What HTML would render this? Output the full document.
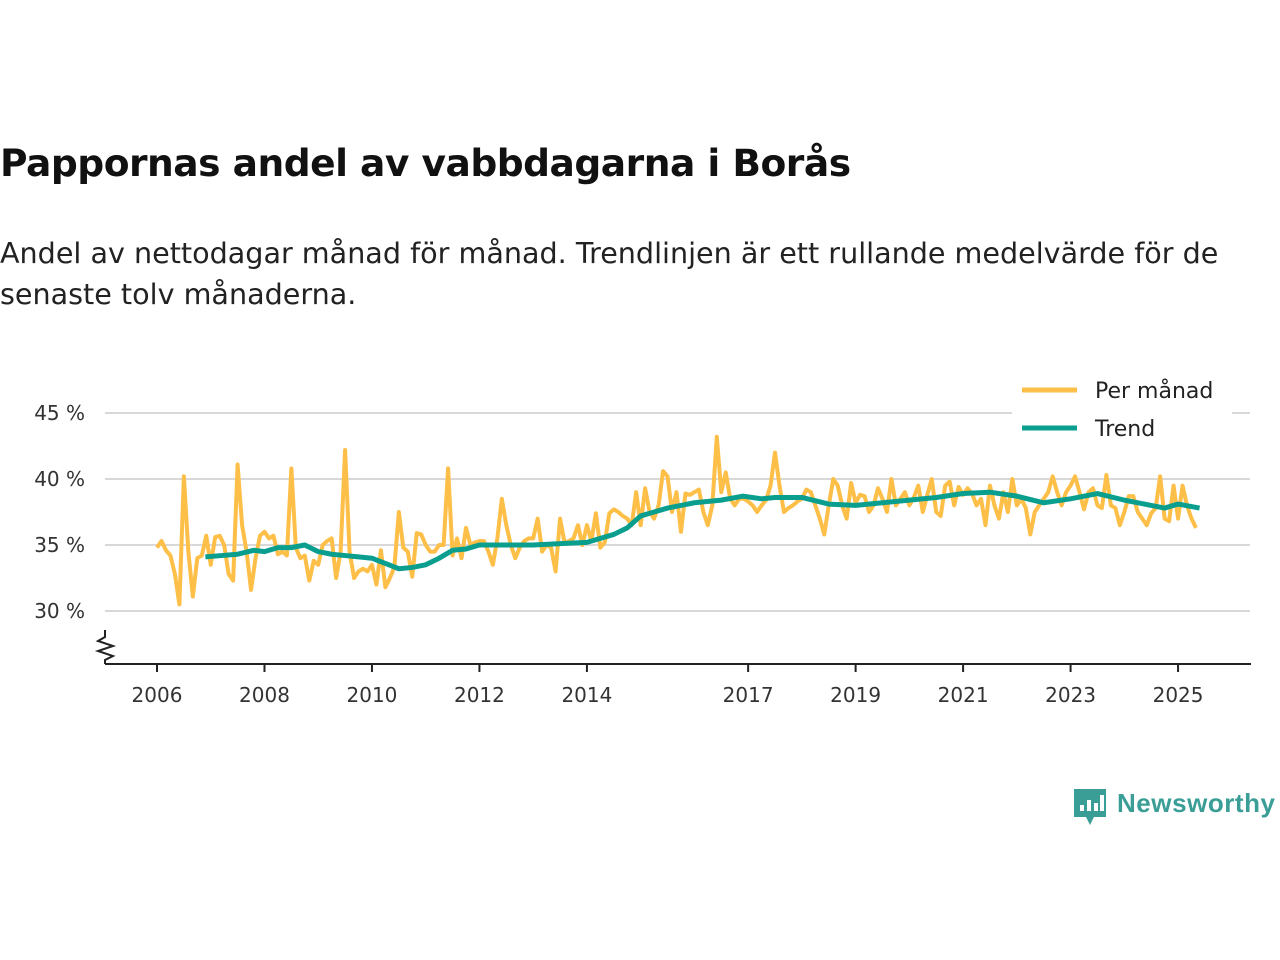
<!DOCTYPE html>
<html><head><meta charset="utf-8">
<style>
body{margin:0;background:#fff;font-family:"Liberation Sans","DejaVu Sans",sans-serif;}
#wrap{position:relative;width:1280px;height:960px;overflow:hidden;}
h1{position:absolute;left:0;top:141px;margin:0;font-size:37.6px;font-weight:bold;color:#111;font-family:"DejaVu Sans",sans-serif;letter-spacing:-0.5px}
p{position:absolute;left:0;top:233px;margin:0;font-size:28.6px;line-height:41px;color:#222;font-family:"DejaVu Sans",sans-serif;width:1250px}
</style></head><body>
<div id="wrap">
<h1>Pappornas andel av vabbdagarna i Borås</h1>
<p>Andel av nettodagar månad för månad. Trendlinjen är ett rullande medelvärde för de senaste tolv månaderna.</p>
<svg id="chart" width="1280" height="960" style="position:absolute;left:0;top:0"></svg>
</div>
<script>
const startYear = 2006;
const monthly = [
34.8,35.3,34.6,34.2,32.8,30.5,40.2,34.5,31.1,34.0,34.2,35.7,
33.5,35.6,35.7,35.0,32.8,32.3,41.1,36.5,34.5,31.6,34.0,35.7,
36.0,35.5,35.7,34.3,34.5,34.2,40.8,34.8,34.0,34.2,32.3,33.8,
33.5,35.0,35.3,35.5,32.5,34.5,42.2,34.5,32.5,33.0,33.2,33.0,
33.5,32.0,34.6,31.8,32.5,33.3,37.5,34.8,34.5,32.6,35.9,35.8,
35.0,34.5,34.5,35.0,35.0,40.8,34.2,35.5,34.0,36.3,35.0,35.2,
35.3,35.3,34.5,33.5,35.5,38.5,36.5,35.0,34.0,34.8,35.3,35.5,
35.5,37.0,34.5,35.0,34.8,33.0,37.0,35.2,35.3,35.5,36.5,35.0,
36.5,35.3,37.4,34.8,35.2,37.4,37.7,37.5,37.2,37.0,36.5,39.0,
36.5,39.3,37.5,37.0,38.0,40.6,40.2,37.5,39.0,36.0,38.9,38.8,
39.0,39.2,37.5,36.5,38.0,43.2,39.0,40.5,38.5,38.0,38.5,38.5,
38.3,38.0,37.5,38.0,38.4,39.5,42.0,39.5,37.5,37.8,38.0,38.3,
38.5,39.2,39.0,38.0,37.0,35.8,38.0,40.0,39.5,38.0,37.0,39.7,
38.2,38.8,38.7,37.5,38.0,39.3,38.5,37.5,40.0,38.0,38.5,39.0,
38.0,38.6,39.5,37.5,38.8,40.0,37.5,37.2,39.5,39.8,38.0,39.4,
38.8,39.3,38.9,38.0,38.5,36.5,39.5,38.0,37.0,39.0,37.5,40.0,
38.0,38.5,37.8,35.8,37.5,38.0,38.5,39.0,40.2,39.0,38.0,39.0,
39.5,40.2,39.0,37.7,39.0,39.3,38.0,37.8,40.3,38.0,37.8,36.5,
37.5,38.7,38.7,37.5,37.0,36.5,37.4,37.8,40.2,37.0,36.8,39.5,
37.0,39.5,38.0,37.0,36.3];
const trendDates = [2006.9,2007.2,2007.5,2007.8,2008.0,2008.25,2008.5,2008.75,2009.0,2009.25,2009.5,2009.75,2010.0,2010.25,2010.5,2010.75,2011.0,2011.25,2011.5,2011.75,2012.0,2012.5,2013.0,2013.5,2014.0,2014.25,2014.5,2014.75,2015.0,2015.25,2015.5,2015.75,2016.0,2016.5,2016.9,2017.25,2017.5,2018.0,2018.5,2019.0,2019.5,2020.0,2020.5,2021.0,2021.5,2022.0,2022.5,2023.0,2023.5,2024.0,2024.5,2024.75,2025.0,2025.4];
const trendValues = [34.1,34.2,34.3,34.6,34.5,34.8,34.8,35.0,34.5,34.3,34.2,34.1,34.0,33.6,33.2,33.3,33.5,34.0,34.6,34.7,35.0,35.0,35.0,35.1,35.2,35.5,35.8,36.3,37.2,37.5,37.8,38.0,38.2,38.4,38.7,38.5,38.6,38.6,38.1,38.0,38.2,38.4,38.6,38.9,39.0,38.7,38.2,38.5,38.9,38.4,38.0,37.8,38.1,37.8];
const yTicks = [30,35,40,45];
const xTicks = [2006,2008,2010,2012,2014,2017,2019,2021,2023,2025];

const NS="http://www.w3.org/2000/svg";
const svg=document.getElementById('chart');
const X=t=>157+(t-2006)*53.74;
const Y=v=>413+(45-v)*13.2;
function mk(tag,attrs,parent){const e=document.createElementNS(NS,tag);for(const k in attrs)e.setAttribute(k,attrs[k]);(parent||svg).appendChild(e);return e;}
const font='"DejaVu Sans","Liberation Sans",sans-serif';
yTicks.forEach(v=>{
  const g=mk('line',{x1:105,x2:1250,y1:Y(v),y2:Y(v),stroke:'#d8d8d8','stroke-width':2});
  
  
  const t=mk('text',{x:85,y:Y(v)+7,'text-anchor':'end','font-size':20,fill:'#333','font-family':font});
  t.textContent=v+' %';
  
  
});
const ax=mk('line',{x1:105,x2:1251,y1:664,y2:664,stroke:'#222','stroke-width':2});


const br=mk('path',{d:'M105 630 L105 637 L98 641 L113 646 L98 651 L113 656 L105 660 L105 664',fill:'none',stroke:'#222','stroke-width':2});


xTicks.forEach(yr=>{
  const l=mk('line',{x1:X(yr),x2:X(yr),y1:664,y2:672,stroke:'#222','stroke-width':2});
  
  
  const t=mk('text',{x:X(yr),y:702,'text-anchor':'middle','font-size':20,fill:'#333','font-family':font});
  t.textContent=yr;
  
  
});
const mp=monthly.map((v,i)=>X(startYear+i/12)+','+Y(v)).join(' ');
const ml=mk('polyline',{points:mp,fill:'none',stroke:'#fdbf47','stroke-width':4,'stroke-linejoin':'round'});


const tp=trendValues.map((v,i)=>X(trendDates[i])+','+Y(v)).join(' ');
const tl=mk('polyline',{points:tp,fill:'none',stroke:'#0a9e8f','stroke-width':5,'stroke-linejoin':'round'});


const lg=mk('g',{});


mk('rect',{x:1012,y:372,width:220,height:76,fill:'#fff'},lg);
[['Per månad','#fdbf47',390],['Trend','#0a9e8f',428]].forEach(([n,c,y])=>{
  const l=mk('line',{x1:1022,x2:1077,y1:y,y2:y,stroke:c,'stroke-width':5},lg);
  
  
  const t=mk('text',{x:1095,y:y+8,'font-size':22,fill:'#222','font-family':font},lg);
  t.textContent=n;
  
  
});
const lo=mk('g',{});


mk('path',{d:'M1074 789 h32 v28 h-12 l-4 8 l-4 -8 h-12 z',fill:'#3a9e96'},lo);
[[1080,805,6],[1087,800,11],[1094,803,8],[1100,795,16]].forEach(([x,y,h])=>mk('rect',{x:x,y:y,width:4,height:h,fill:'#fff'},lo));
const lt=mk('text',{x:1117,y:812,'font-size':26,'font-weight':'bold',fill:'#3a9e96','font-family':'"Liberation Sans",sans-serif','textLength':158},lo);
lt.textContent='Newsworthy';
</script>
</body></html>
